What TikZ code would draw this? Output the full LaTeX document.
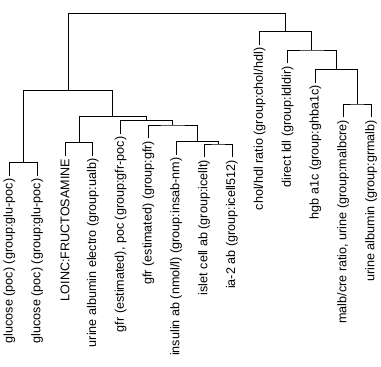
\documentclass[tikz,border=0pt]{standalone}
\usepackage{fontspec}
\setmainfont{Liberation Sans}
\tikzset{
    leaf/.style={rotate=90, anchor=east, inner sep=2.5pt,
        font=\fontsize{12.6}{14}\selectfont},
    branch/.style={draw=black, line width=0.75pt}
}

\begin{document}
\begin{tikzpicture}[x=1pt, y=-1pt]
    \useasboundingbox (0,0) rectangle (381,367);

    % leaves, labels hang below the end of each leaf line
    \node[leaf] (glu1) at (9.3,176) {glucose (poc) (group:glu-poc)};
    \node[leaf] (glu2) at (37.1,176) {glucose (poc) (group:glu-poc)};
    \node[leaf] (fruc) at (65.0,156) {LOINC:FRUCTOSAMINE};
    \node[leaf] (ualb) at (92.8,156) {urine albumin electro (group:ualb)};
    \node[leaf] (gfrpoc) at (120.6,134) {gfr (estimated), poc (group:gfr-poc)};
    \node[leaf] (gfr) at (148.4,138.3) {gfr (estimated) (group:gfr)};
    \node[leaf] (insab) at (176.2,155) {insulin ab (nmol/l) (group:insab-nm)};
    \node[leaf] (icellt) at (204.0,157.3) {islet cell ab (group:icellt)};
    \node[leaf] (icell512) at (231.9,157.3) {ia-2 ab (group:icell512)};
    \node[leaf] (cholhdl) at (259.7,45) {chol/hdl ratio (group:chol/hdl)};
    \node[leaf] (ldldir) at (287.5,63.3) {direct ldl (group:ldldir)};
    \node[leaf] (hba1c) at (315.3,82.6) {hgb a1c (group:ghba1c)};
    \node[leaf] (malbcre) at (343.1,117.3) {malb/cre ratio, urine (group:malbcre)};
    \node[leaf] (grmalb) at (371.0,117.3) {urine albumin (group:grmalb)};

    % merge heights
    \coordinate (glu) at (23.2,162.7);
    \coordinate (lu) at (78.9,142.7);
    \coordinate (cell) at (217.95,144);
    \coordinate (ins) at (197.1,141.7);
    \coordinate (gfrq) at (172.75,125);
    \coordinate (gfrp) at (146.7,120.7);
    \coordinate (mid) at (112.8,116.7);
    \coordinate (left) at (68.0,90.7);
    \coordinate (alb) at (357.05,104);
    \coordinate (a1c) at (336.2,69.3);
    \coordinate (ldl) at (311.85,50);
    \coordinate (lipid) at (285.8,31.7);
    \coordinate (root) at (176.9,13.3);

    \draw[branch] (glu1.east) |- (glu) -| (glu2.east);
    \draw[branch] (fruc.east) |- (lu) -| (ualb.east);
    \draw[branch] (icellt.east) |- (cell) -| (icell512.east);
    \draw[branch] (insab.east) |- (ins) -| (cell);
    \draw[branch] (gfr.east) |- (gfrq) -| (ins);
    \draw[branch] (gfrpoc.east) |- (gfrp) -| (gfrq);
    \draw[branch] (lu) |- (mid) -| (gfrp);
    \draw[branch] (glu) |- (left) -| (mid);
    \draw[branch] (malbcre.east) |- (alb) -| (grmalb.east);
    \draw[branch] (hba1c.east) |- (a1c) -| (alb);
    \draw[branch] (ldldir.east) |- (ldl) -| (a1c);
    \draw[branch] (cholhdl.east) |- (lipid) -| (ldl);
    \draw[branch] (left) |- (root) -| (lipid);

\end{tikzpicture}
\end{document}
